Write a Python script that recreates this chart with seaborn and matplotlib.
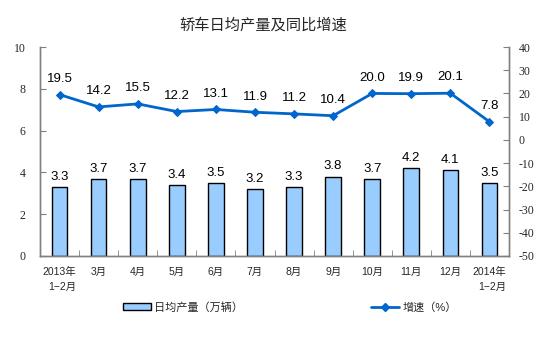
import numpy as np
import pandas as pd
import matplotlib
matplotlib.use("Agg")
import matplotlib.pyplot as plt
from matplotlib.lines import Line2D
from matplotlib.patches import Patch
import seaborn as sns

sns.set_style("white")
plt.rcParams["font.family"] = ["Liberation Sans", "Noto Sans CJK SC"]

months = ["2013年\n1−2月", "3月", "4月", "5月", "6月", "7月", "8月", "9月",
          "10月", "11月", "12月", "2014年\n1−2月"]
daily_output = [3.3, 3.7, 3.7, 3.4, 3.5, 3.2, 3.3, 3.8, 3.7, 4.2, 4.1, 3.5]
growth = [19.5, 14.2, 15.5, 12.2, 13.1, 11.9, 11.2, 10.4, 20.0, 19.9, 20.1, 7.8]
left_ticks = [0, 2, 4, 6, 8, 10]
right_ticks = [-50, -40, -30, -20, -10, 0, 10, 20, 30, 40]

bar_color = "#99CCFF"
line_color = "#0066CC"
axis_gray = "#808080"

df = pd.DataFrame({"month": months, "output": daily_output, "growth": growth})
df["pos"] = np.arange(len(df))

W, H = 554, 343
fig = plt.figure(figsize=(W / 100, H / 100), dpi=100)
ax = fig.add_axes([40 / W, 1 - 256 / H, (509 - 40) / W, (256 - 47) / H])

sns.barplot(data=df, x="month", y="output", ax=ax, color=bar_color,
            edgecolor="black", linewidth=1.0, width=0.4, saturation=1)
ax.set_ylim(0, 10)
ax.set_xlim(-0.5, len(months) - 0.5)
ax2 = ax.twinx()
sns.lineplot(data=df, x="pos", y="growth", ax=ax2, color=line_color,
             linewidth=2.0, marker="D", markersize=4.5, markeredgecolor=line_color)
ax2.set_ylim(-50, 40)
ax2.set_xlim(-0.5, len(months) - 0.5)

# value labels
for i, v in enumerate(daily_output):
    ax.annotate(f"{v:.1f}", (i, v), xytext=(0, 3), textcoords="offset points",
                ha="center", va="bottom", fontsize=9.5, color="black")
for i, v in enumerate(growth):
    ax2.annotate(f"{v:.1f}", (i, v), xytext=(0, 7), textcoords="offset points",
                 ha="center", va="bottom", fontsize=9.5, color="black")

# axes styling
for a in (ax, ax2):
    a.set_xlabel("")
    a.set_ylabel("")
    a.spines["top"].set_visible(False)
    for s in ("left", "right", "bottom"):
        a.spines[s].set_color(axis_gray)
        a.spines[s].set_linewidth(1.0)

ax.set_yticks(left_ticks)
ax.set_yticklabels([str(t) for t in left_ticks], family="Liberation Serif", fontsize=8.5)
ax.tick_params(axis="y", direction="in", length=4, color=axis_gray, pad=10.5, left=True)
ax2.set_yticks(right_ticks)
ax2.set_yticklabels([str(t) for t in right_ticks], family="Liberation Serif", fontsize=8.5)
ax2.tick_params(axis="y", direction="in", length=4, color=axis_gray, pad=7, right=True)

ax.set_xticks(np.arange(len(months)))
ax.set_xticklabels(months, fontsize=7.5, multialignment="right", linespacing=1.55)
ax.tick_params(axis="x", which="major", length=0, pad=8)
ax.set_xticks(np.arange(len(months) + 1) - 0.5, minor=True)
ax.tick_params(axis="x", which="minor", direction="in", length=4, color=axis_gray, bottom=True)
ax2.tick_params(axis="x", bottom=False, labelbottom=False)
ax.grid(False)
ax2.grid(False)

fig.text(263 / W, 1 - 25 / H, "轿车日均产量及同比增速", ha="center", va="center",
         fontsize=11, family=["Noto Sans CJK SC"])

handles = [
    Patch(facecolor=bar_color, edgecolor="black", linewidth=1.0),
    Line2D([0], [0], color=line_color, linewidth=2, marker="D", markersize=4.5),
]
leg = fig.legend(handles, ["日均产量（万辆）", "增速（%）"], ncol=2,
                 loc="center", bbox_to_anchor=(290 / W, 1 - 307 / H),
                 frameon=False, fontsize=8, handlelength=2.5, handleheight=0.55,
                 handletextpad=0.3, columnspacing=11.5)

fig.savefig("out.png", dpi=100)
